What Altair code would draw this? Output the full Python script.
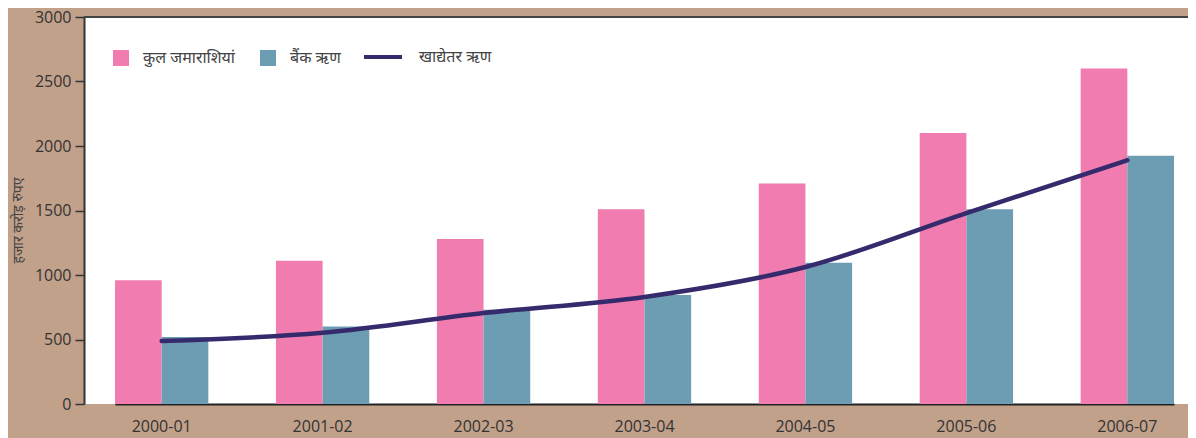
import altair as alt
import pandas as pd

years = ["2000-01", "2001-02", "2002-03", "2003-04", "2004-05", "2005-06", "2006-07"]
deposits = [960, 1110, 1280, 1510, 1710, 2100, 2600]        # कुल जमाराशियां
bank_credit = [520, 600, 730, 845, 1095, 1510, 1925]        # बैंक ऋण
nonfood_credit = [488, 552, 705, 830, 1062, 1480, 1890]     # खाद्येतर ऋण

s_dep = "कुल जमाराशियां"
s_bank = "बैंक ऋण"
s_nf = "खाद्येतर ऋण"

bars_df = pd.DataFrame(
    [{"year": y, "series": s_dep, "value": v} for y, v in zip(years, deposits)]
    + [{"year": y, "series": s_bank, "value": v} for y, v in zip(years, bank_credit)]
)
line_df = pd.DataFrame({"year": years, "series": s_nf, "value": nonfood_credit})

FONT = "Open Sans, Noto Sans, Noto Sans Devanagari, sans-serif"
TXT = "#333333"

x_scale = alt.Scale(domain=years, paddingInner=0.42, paddingOuter=0, range=[31, 1090])
y_scale = alt.Scale(domain=[0, 3000], nice=False)

x_enc = alt.X("year:N", scale=x_scale, sort=years,
              axis=alt.Axis(title=None, labelAngle=0, ticks=False, labelPadding=14,
                            labelFontSize=16, labelColor=TXT, labelFont=FONT,
                            domainColor="#222222", domainWidth=2))
y_enc = alt.Y("value:Q", scale=y_scale,
              axis=alt.Axis(title="हजार करोड़ रुपए", values=[0, 500, 1000, 1500, 2000, 2500, 3000],
                            format="d",
                            grid=False, tickSize=9, tickColor="#333333", tickWidth=1.5,
                            labelPadding=4, labelFontSize=16, labelColor=TXT, labelFont=FONT,
                            domainColor="#333333", domainWidth=2,
                            titleFontSize=14, titleFontWeight="normal", titleColor="#444444",
                            titleFont=FONT, titleX=-59, titleY=203))

bars = alt.Chart(bars_df).mark_bar().encode(
    x=x_enc,
    xOffset=alt.XOffset("series:N", sort=[s_dep, s_bank], scale=alt.Scale(domain=[s_dep, s_bank])),
    y=y_enc,
    color=alt.Color("series:N",
                    scale=alt.Scale(domain=[s_dep, s_bank], range=["#f07cb0", "#6d9db2"]),
                    legend=alt.Legend(title=None, orient="none", legendX=29, legendY=33,
                                      direction="horizontal", symbolType="square",
                                      symbolSize=256, symbolStrokeWidth=0, symbolOpacity=1,
                                      labelOffset=14, columnPadding=24,
                                      labelFontSize=16, labelColor="#444444", labelFont=FONT)),
)

line = alt.Chart(line_df).mark_line(strokeWidth=4.5, interpolate="monotone", strokeCap="round").encode(
    x=alt.X("year:N", scale=x_scale, sort=years),
    y=alt.Y("value:Q", scale=y_scale),
    stroke=alt.Stroke("series:N",
                      scale=alt.Scale(domain=[s_nf], range=["#352b6c"]),
                      legend=alt.Legend(title=None, orient="none", legendX=278, legendY=19,
                                        symbolType="stroke", symbolSize=1444,
                                        symbolStrokeWidth=4, labelOffset=15,
                                        labelFontSize=16, labelColor="#444444", labelFont=FONT)),
)

top_border = alt.Chart(pd.DataFrame({"v": [3000]})).mark_rule(color="#444444", strokeWidth=2).encode(
    y=alt.Y("v:Q", scale=y_scale)
)

chart = (
    alt.layer(bars, line, top_border)
    .resolve_scale(color="independent", stroke="independent")
    .properties(width=1104, height=387,
                autosize=alt.AutoSizeParams(type="none"),
                padding={"left": 76, "top": 9, "right": 0, "bottom": 34},
                background="#c2a18b")
    .configure_view(stroke=None, fill="white")
)

chart.save("out.html", embed_options={"renderer": "svg", "actions": False})
